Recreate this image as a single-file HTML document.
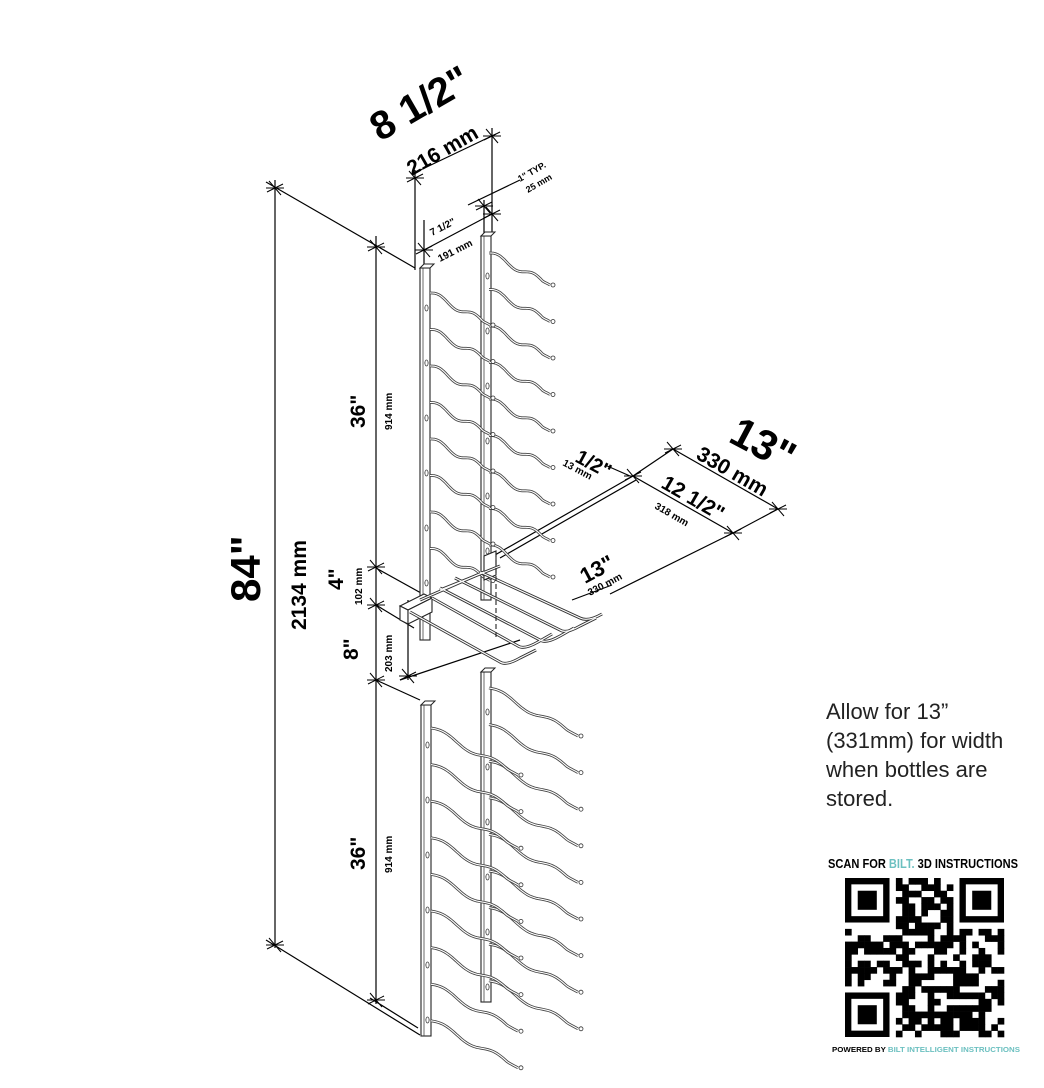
<!DOCTYPE html>
<html><head><meta charset="utf-8"><style>
html,body{margin:0;padding:0;background:#fff;}
#w{position:relative;width:1044px;height:1088px;overflow:hidden;}
svg{position:absolute;left:0;top:0;}
text{font-family:"Liberation Sans",Arial,sans-serif;font-weight:bold;fill:#000;}
.note{position:absolute;left:826px;top:697px;font-family:"Liberation Sans",Arial,sans-serif;font-size:22px;line-height:29px;color:#222;}
</style></head><body><div id="w">
<svg id="s" width="1044" height="1088" viewBox="0 0 1044 1088">
<g id="dims" stroke="#000" stroke-width="1.2" fill="none">
<line x1="275" y1="180" x2="275" y2="948"/>
<line x1="266" y1="182" x2="415" y2="268"/>
<line x1="266" y1="940" x2="420" y2="1035"/>
<line x1="376" y1="236" x2="376" y2="572"/>
<line x1="376" y1="568" x2="430" y2="598"/>
<line x1="376" y1="605" x2="414" y2="628"/>
<line x1="376" y1="572" x2="376" y2="690"/>
<line x1="376" y1="680" x2="420" y2="700"/>
<line x1="376" y1="690" x2="376" y2="1004"/>
<line x1="370" y1="998" x2="418" y2="1028"/>
<line x1="408" y1="600" x2="408" y2="680"/>
<line x1="415" y1="170" x2="415" y2="270"/>
<line x1="492" y1="128" x2="492" y2="232"/>
<line x1="412" y1="174" x2="496" y2="134"/>
<line x1="484" y1="200" x2="484" y2="236"/>
<line x1="468" y1="205" x2="520" y2="180"/>
<line x1="424" y1="250" x2="492" y2="214"/>
<line x1="424" y1="220" x2="424" y2="268"/>
<line x1="673" y1="449" x2="778" y2="509"/>
<line x1="633" y1="476" x2="733" y2="533"/>
<line x1="633" y1="476" x2="673" y2="449"/>
<line x1="733" y1="533" x2="778" y2="509"/>
<line x1="633" y1="476" x2="495" y2="555"/>
<line x1="636" y1="480" x2="500" y2="558"/>
<line x1="733" y1="533" x2="610" y2="594"/>
<line x1="520" y1="640" x2="400" y2="680"/>
<line x1="612" y1="585" x2="572" y2="600"/>
<line x1="605" y1="465" x2="630" y2="476"/>
</g>
<g id="ticks" stroke="#000" stroke-width="1" fill="none"></g>
<g id="rack"></g>
<g id="shelf" stroke="#222" stroke-width="1.1" fill="#fff">
<polygon points="400,606 424,594 432,598 408,610"/>
<polygon points="400,606 408,610 408,624 400,620"/>
<polygon points="408,610 432,598 432,612 408,624"/>
<polygon points="484,556 496,551 496,575 484,580" />
<g fill="none" stroke="#333" stroke-width="3">
<path d="M410,612 L500,662 Q506,666 520,658 L536,650"/>
<path d="M432,598 L518,646 Q524,650 538,642 L552,634"/>
<path d="M440,588 L540,640 Q546,644 560,636 L574,628"/>
<path d="M455,578 L560,630 Q566,634 580,626 L596,618"/>
<path d="M480,572 L580,618 Q588,622 602,614"/>
<path d="M440,590 L500,566"/>
<path d="M420,600 L484,572"/>
</g>
<g fill="none" stroke="#fff" stroke-width="1.2">
<path d="M410,612 L500,662 Q506,666 520,658 L536,650"/>
<path d="M432,598 L518,646 Q524,650 538,642 L552,634"/>
<path d="M440,588 L540,640 Q546,644 560,636 L574,628"/>
<path d="M455,578 L560,630 Q566,634 580,626 L596,618"/>
<path d="M480,572 L580,618 Q588,622 602,614"/>
<path d="M440,590 L500,566"/>
<path d="M420,600 L484,572"/>
</g>
<line x1="496" y1="552" x2="496" y2="640" stroke-dasharray="5,3"/>
</g>
<g id="labels">
<text transform="translate(380,142) rotate(-30)" font-size="40">8 1/2"</text>
<text transform="translate(412,176) rotate(-30)" font-size="21">216 mm</text>
<text transform="translate(520,182) rotate(-30)" font-size="9">1" TYP.</text>
<text transform="translate(528,193) rotate(-30)" font-size="9">25 mm</text>
<text transform="translate(432,236) rotate(-27)" font-size="10">7 1/2"</text>
<text transform="translate(440,262) rotate(-27)" font-size="10">191 mm</text>
<text transform="translate(260,602) rotate(-90)" font-size="42">84"</text>
<text transform="translate(306,630) rotate(-90)" font-size="21">2134 mm</text>
<text transform="translate(365,428) rotate(-90)" font-size="21">36"</text>
<text transform="translate(392,430) rotate(-90)" font-size="10">914 mm</text>
<text transform="translate(343,590) rotate(-90)" font-size="21">4"</text>
<text transform="translate(362,605) rotate(-90)" font-size="10">102 mm</text>
<text transform="translate(358,660) rotate(-90)" font-size="21">8"</text>
<text transform="translate(392,672) rotate(-90)" font-size="10">203 mm</text>
<text transform="translate(365,870) rotate(-90)" font-size="21">36"</text>
<text transform="translate(392,873) rotate(-90)" font-size="10">914 mm</text>
<text transform="translate(574,461) rotate(28)" font-size="20">1/2"</text>
<text transform="translate(562,465) rotate(28)" font-size="10">13 mm</text>
<text transform="translate(727,441) rotate(28)" font-size="42">13"</text>
<text transform="translate(695,458) rotate(30)" font-size="21">330 mm</text>
<text transform="translate(660,487) rotate(30)" font-size="21">12 1/2"</text>
<text transform="translate(654,508) rotate(30)" font-size="10">318 mm</text>
<text transform="translate(585,584) rotate(-28)" font-size="22">13"</text>
<text transform="translate(590,596) rotate(-28)" font-size="10">330 mm</text>
<text x="828" y="868" font-size="13" textLength="190" lengthAdjust="spacingAndGlyphs" fill="#222">SCAN FOR <tspan fill="#6cc0c0">BILT.</tspan> 3D INSTRUCTIONS</text>
<text x="832" y="1052" font-size="7.5" textLength="188" lengthAdjust="spacingAndGlyphs">POWERED BY <tspan fill="#6cc0c0">BILT INTELLIGENT INSTRUCTIONS</tspan></text>
</g>
<g id="qr"></g>
</svg>
<div class="note">Allow for 13”<br>(331mm) for width<br>when bottles are<br>stored.</div>
</div>
<script>
var NS="http://www.w3.org/2000/svg";
function el(p,t,a){var e=document.createElementNS(NS,t);for(var k in a)e.setAttribute(k,a[k]);p.appendChild(e);return e;}
var tk=document.getElementById("ticks");
[[275,188],[376,247],[376,567],[376,605],[376,680],[376,1000],[275,945],[415,178],[492,136],[484,206],[492,214],[424,250],[633,476],[673,449],[778,509],[733,533],[408,676]].forEach(function(p){
 el(tk,"line",{x1:p[0]-8,y1:p[1]+4,x2:p[0]+8,y2:p[1]-4});
 el(tk,"line",{x1:p[0]-6,y1:p[1]-7,x2:p[0]+6,y2:p[1]+7});
 el(tk,"line",{x1:p[0]-9,y1:p[1],x2:p[0]+9,y2:p[1]});
});
var r=document.getElementById("rack");
function rail(x,y0,y1){
 el(r,"rect",{x:x,y:y0,width:10,height:y1-y0,fill:"#fff",stroke:"#222","stroke-width":1.1});
 el(r,"line",{x1:x+3,y1:y0,x2:x+3,y2:y1,stroke:"#444","stroke-width":0.8});
 el(r,"polygon",{points:(x)+","+y0+" "+(x+4)+","+(y0-4)+" "+(x+14)+","+(y0-4)+" "+(x+10)+","+y0,fill:"#fff",stroke:"#222","stroke-width":1});
 for(var y=y0+40;y<y1-10;y+=55) el(r,"ellipse",{cx:x+6.5,cy:y,rx:1.6,ry:3,fill:"none",stroke:"#333","stroke-width":0.8});
}
function arm(x0,y0,x1,y1){
 var d="M"+x0+","+y0;var n=40;
 for(var i=1;i<=n;i++){var t=i/n;var x=x0+(x1-x0)*t;var y=y0+(y1-y0)*t+ (t<0.88?-3*Math.sin(t*Math.PI*3.4):0);d+=" L"+x.toFixed(1)+","+y.toFixed(1);}
 el(r,"path",{d:d,fill:"none",stroke:"#444","stroke-width":2.8,"stroke-linejoin":"round"});
 el(r,"path",{d:d,fill:"none",stroke:"#fff","stroke-width":1.1,"stroke-linejoin":"round"});
 el(r,"circle",{cx:x1+3,cy:y1,r:2,fill:"#fff",stroke:"#333","stroke-width":0.8});
}
rail(481,236,600);
for(var i=0;i<9;i++){var y=253+i*36.5;arm(489,y,550,y+32);}
rail(420,268,640);
for(var i=0;i<8;i++){var y=293+i*36.5;arm(430,y,490,y+32);}
rail(481,672,1002);
for(var i=0;i<9;i++){var y=688+i*36.6;arm(489,y,578,y+48);}
rail(421,705,1036);
for(var i=0;i<9;i++){var y=728+i*36.6;arm(431,y,518,y+47);}
var q=document.getElementById("qr");var N=25,X=845,Y=878,m=6.36;
var seed=7;function rnd(){seed=(seed*9301+49297)%233280;return seed/233280;}
function fin(cx,cy){el(q,"rect",{x:X+cx*m,y:Y+cy*m,width:7*m,height:7*m,fill:"#000"});el(q,"rect",{x:X+(cx+1)*m,y:Y+(cy+1)*m,width:5*m,height:5*m,fill:"#fff"});el(q,"rect",{x:X+(cx+2)*m,y:Y+(cy+2)*m,width:3*m,height:3*m,fill:"#000"});}
for(var yy=0;yy<N;yy++)for(var xx=0;xx<N;xx++){
 var inF=(xx<8&&yy<8)||(xx>16&&yy<8)||(xx<8&&yy>16);
 if(!inF&&rnd()<0.5)el(q,"rect",{x:X+xx*m,y:Y+yy*m,width:m+0.3,height:m+0.3,fill:"#000"});
}
fin(0,0);fin(18,0);fin(0,18);
</script>
</body></html>
